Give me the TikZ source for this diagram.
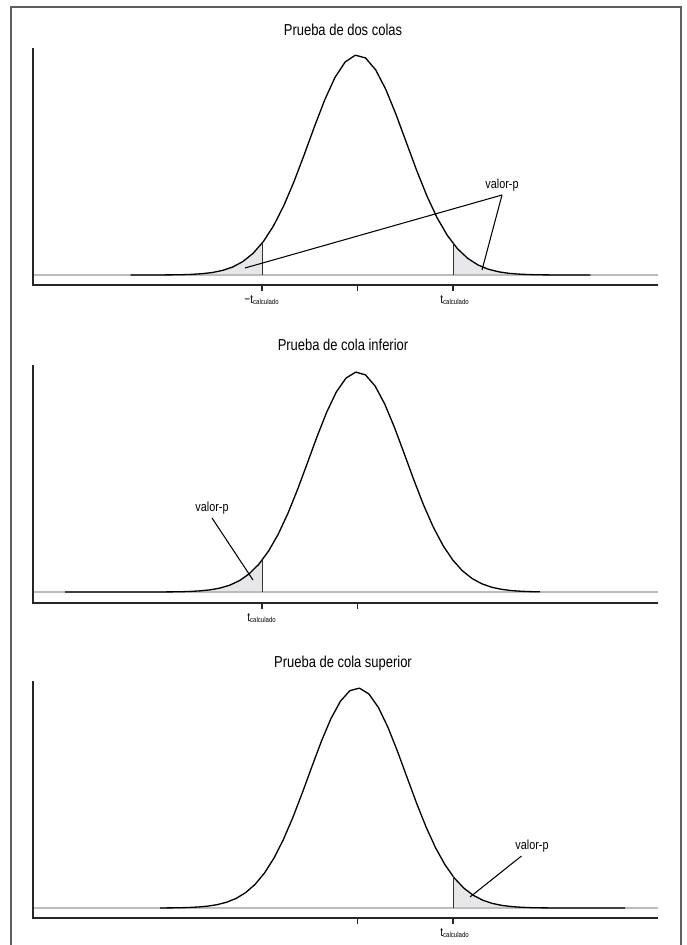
\documentclass[tikz,border=0pt]{standalone}
\usepackage{fontspec}
\setmainfont{Liberation Sans}[FakeStretch=0.82]
\usepackage{tikz}
\usetikzlibrary{positioning}
\definecolor{framegray}{RGB}{95,95,95}
\definecolor{baselinegray}{RGB}{188,188,188}
\definecolor{tailfill}{RGB}{231,231,233}
\tikzset{
    frame/.style      = {draw = framegray, line width = 1.1pt},
    axis/.style       = {draw = black!85, line width = 0.8pt},
    baseline/.style   = {draw = baselinegray, line width = 0.9pt},
    density/.style    = {draw = black, line width = 0.75pt, line join = round},
    edge/.style       = {draw = black!80, line width = 0.5pt},
    tail/.style       = {fill = tailfill, draw = none},
    pointer/.style    = {draw = black, line width = 0.6pt},
    title/.style      = {font = \fontsize{9}{10}\selectfont},
    pval/.style       = {font = \fontsize{7.5}{8}\selectfont, inner sep = 2pt},
    tick label/.style = {font = \fontsize{7}{8}\selectfont, inner sep = 1pt, anchor = north}
}
\newcommand{\tcalc}{t\textsubscript{\fontsize{4.2}{5}\selectfont calculado}}

\begin{document}
\begin{tikzpicture}[x=0.02cm, y=-0.02cm]
    \useasboundingbox (0,0) rectangle (686,945);
    \draw[frame] (11,945) -- (11,7) -- (681,7) -- (681,945);

    % dos colas
    \begin{scope}[shift={(0,275)}]
        \fill[tail] (130,0) -- plot[domain=-4.68:-1.969, samples=30] ({357.5+48.5*\x},{-220*exp(-\x*\x/2)}) -- (262,0) -- cycle;
        \fill[tail] (453,0) -- plot[domain=1.969:4.8, samples=30] ({357.5+48.5*\x},{-220*exp(-\x*\x/2)}) -- (588,0) -- cycle;
        \draw[baseline] (33,0) -- (658,0);
        \draw[axis] (33,-227) -- (33,10) -- (658,10);
        \foreach \tx in {262,357.5,453}
            \draw[axis] (\tx,10) -- (\tx,16);
        \draw[density] plot[domain=-4.68:4.8, samples=46] ({357.5+48.5*\x},{-220*exp(-\x*\x/2)});
        \draw[edge] (262,0) -- (262,{-220*exp(-1.969*1.969/2)});
        \draw[edge] (453,0) -- (453,{-220*exp(-1.969*1.969/2)});
        \node[title] (title1) at (343,-245) {Prueba de dos colas};
        \node[tick label] (tlow1) at (262,18) {−\tcalc};
        \node[tick label] (tup1) at (455,18) {\tcalc};
        \node[pval] (pv1) at (502,-90) {valor-p};
        \coordinate (tipL1) at (245,-7);
        \coordinate (tipR1) at (482,-5);
        \draw[pointer] (pv1.south) -- (tipL1);
        \draw[pointer] (pv1.south) -- (tipR1);
    \end{scope}

    % cola inferior
    \begin{scope}[shift={(0,592)}]
        \fill[tail] (65,0) -- plot[domain=-6.03:-1.969, samples=30] ({357.5+48.5*\x},{-220*exp(-\x*\x/2)}) -- (262,0) -- cycle;
        \draw[baseline] (33,0) -- (658,0);
        \draw[axis] (33,-227) -- (33,11) -- (658,11);
        \foreach \tx in {262,357.5}
            \draw[axis] (\tx,11) -- (\tx,17);
        \draw[density] plot[domain=-6.03:3.76, samples=50] ({357.5+48.5*\x},{-220*exp(-\x*\x/2)});
        \draw[edge] (262,0) -- (262,{-220*exp(-1.969*1.969/2)});
        \node[title] (title2) at (343,-247) {Prueba de cola inferior};
        \node[tick label] (tlow2) at (262,19) {\tcalc};
        \node[pval] (pv2) at (212,-84) {valor-p};
        \coordinate (tip2) at (253,-12);
        \draw[pointer] (pv2.south) -- (tip2);
    \end{scope}

    % cola superior
    \begin{scope}[shift={(0,908)}]
        \fill[tail] (453,0) -- plot[domain=1.969:5.52, samples=30] ({357.5+48.5*\x},{-220*exp(-\x*\x/2)}) -- (625,0) -- cycle;
        \draw[baseline] (33,0) -- (658,0);
        \draw[axis] (33,-227) -- (33,10) -- (658,10);
        \foreach \tx in {357.5,453}
            \draw[axis] (\tx,10) -- (\tx,16);
        \draw[density] plot[domain=-4.07:5.52, samples=50] ({357.5+48.5*\x},{-220*exp(-\x*\x/2)});
        \draw[edge] (453,0) -- (453,{-220*exp(-1.969*1.969/2)});
        \node[title] (title3) at (343,-245) {Prueba de cola superior};
        \node[tick label] (tup3) at (455,18) {\tcalc};
        \node[pval] (pv3) at (532,-62) {valor-p};
        \coordinate (tip3) at (470,-11);
        \draw[pointer] ([xshift=-6]pv3.south) -- (tip3);
    \end{scope}
\end{tikzpicture}
\end{document}
